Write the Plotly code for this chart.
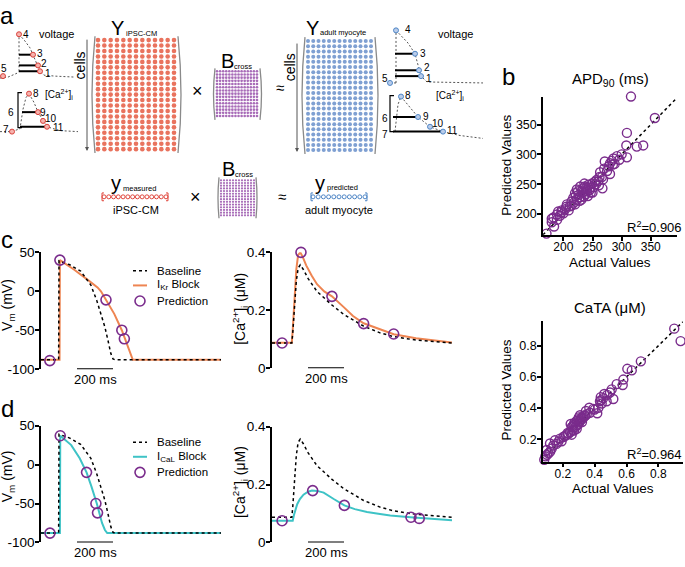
import numpy as np
import plotly.graph_objects as go

W, H = 685, 567
FONT = "Liberation Sans, Arial, sans-serif"

# ---------------- data ----------------
# panel b
apd_actual = [316, 357, 309, 308, 326, 337, 309, 300, 292, 286, 283, 280, 271, 285, 270, 280, 263, 266, 267,
              257, 254, 249, 243, 237, 234, 240, 231, 229, 223, 226, 220, 217, 223, 214, 220, 211, 206, 203, 197,
              200, 191, 189, 194, 183, 180, 184, 164, 171, 189, 180, 197, 245, 247, 238, 242, 235, 250, 252, 256,
              260, 233, 228, 225, 221, 236, 246, 241, 231, 214, 209, 205, 218, 228, 262, 268, 275, 278, 288, 296,
              261, 239]
apd_pred = [397, 361, 336, 315, 313, 315, 295, 300, 297, 293, 289, 285, 288, 283, 276, 267, 270, 262, 243,
            257, 254, 251, 249, 246, 243, 241, 238, 246, 241, 232, 235, 227, 224, 221, 216, 213, 216, 208, 206,
            201, 204, 199, 197, 194, 192, 179, 167, 167, 190, 186, 203, 240, 236, 233, 230, 229, 236, 245, 250,
            255, 236, 228, 238, 230, 251, 244, 238, 224, 214, 206, 212, 219, 222, 262, 258, 272, 280, 284, 291,
            248, 244]
cata_actual = [0.90, 0.94, 0.69, 0.605, 0.633, 0.58, 0.538, 0.576, 0.507, 0.517, 0.496, 0.479, 0.454, 0.438,
               0.433, 0.444, 0.475, 0.423, 0.391, 0.416, 0.366, 0.345, 0.328, 0.318, 0.308, 0.297, 0.287, 0.303,
               0.276, 0.249, 0.265, 0.255, 0.287, 0.27, 0.245, 0.234, 0.255, 0.22, 0.203, 0.182, 0.192, 0.171,
               0.119, 0.098, 0.083, 0.15, 0.30, 0.31, 0.32, 0.33, 0.29, 0.28, 0.26, 0.35, 0.37, 0.40, 0.14, 0.13,
               0.12, 0.11, 0.10, 0.09, 0.16, 0.21, 0.23, 0.27, 0.30, 0.32, 0.34, 0.44, 0.46]
cata_pred = [0.91, 0.83, 0.70, 0.652, 0.642, 0.583, 0.554, 0.548, 0.52, 0.458, 0.50, 0.485, 0.464, 0.47,
             0.444, 0.429, 0.444, 0.402, 0.395, 0.367, 0.402, 0.381, 0.35, 0.339, 0.354, 0.329, 0.318, 0.312,
             0.308, 0.298, 0.287, 0.277, 0.267, 0.256, 0.245, 0.235, 0.229, 0.225, 0.214, 0.204, 0.187, 0.183,
             0.173, 0.131, 0.068, 0.193, 0.30, 0.32, 0.33, 0.34, 0.29, 0.28, 0.26, 0.36, 0.37, 0.39, 0.16, 0.14,
             0.12, 0.11, 0.10, 0.09, 0.17, 0.22, 0.24, 0.30, 0.34, 0.31, 0.35, 0.45, 0.49]
apd_r2 = "0.906"
cata_r2 = "0.964"

# panels c/d : time in ms
base_v_t = [0, 98, 100, 160, 220, 277, 310, 335, 355, 372, 388, 400, 412, 1000]
base_v = [-88, -88, 39, 34, 26, 8, -12, -30, -46, -63, -80, -87, -88, -88]
ikr_v_t = [0, 103, 105, 183, 258, 314, 333, 361, 407, 449, 473, 492, 510, 1000]
ikr_v = [-88, -88, 40, 28, 15, 5, 0, -11, -29, -50, -65, -77, -88, -88]
ikr_v_pred_t = [49, 105, 361, 449, 463]
ikr_v_pred = [-89, 40, -11, -50, -61]

base_ca_t = [0, 110, 115, 125, 135, 145, 157, 175, 200, 250, 300, 333, 400, 509, 600, 676, 800, 900, 1000]
base_ca = [0.087, 0.087, 0.12, 0.22, 0.30, 0.345, 0.357, 0.34, 0.31, 0.265, 0.235, 0.218, 0.185, 0.145,
           0.122, 0.109, 0.097, 0.091, 0.087]
ikr_ca_t = [0, 110, 115, 125, 135, 145, 157, 170, 190, 220, 250, 290, 333, 400, 450, 509, 600, 676, 800, 900, 1000]
ikr_ca = [0.088, 0.088, 0.13, 0.25, 0.34, 0.39, 0.40, 0.385, 0.355, 0.32, 0.29, 0.265, 0.248, 0.21, 0.18,
          0.155, 0.133, 0.117, 0.103, 0.095, 0.089]
ikr_ca_pred_t = [56, 161, 333, 509, 676]
ikr_ca_pred = [0.087, 0.40, 0.248, 0.154, 0.118]

cal_v_t = [0, 105, 107, 140, 168, 215, 253, 280, 310, 339, 355, 368, 1000]
cal_v = [-88, -88, 37, 31, 25, 8, -10, -28, -50, -75, -84, -88, -88]
cal_v_pred_t = [50, 107, 253, 305, 314]
cal_v_pred = [-88, 37, -10, -50, -62]

cal_ca_t = [0, 115, 122, 130, 140, 155, 175, 200, 222, 250, 287, 343, 402, 460, 528, 600, 657, 769, 900, 1000]
cal_ca = [0.075, 0.075, 0.095, 0.115, 0.132, 0.150, 0.165, 0.175, 0.179, 0.178, 0.172, 0.150, 0.128, 0.115,
          0.105, 0.098, 0.093, 0.087, 0.080, 0.077]
cal_ca_pred_t = [56, 226, 402, 772, 818]
cal_ca_pred = [0.075, 0.179, 0.128, 0.087, 0.083]

legend_c = ["Baseline", "I<sub>Kr</sub> Block", "Prediction"]
legend_d = ["Baseline", "I<sub>CaL</sub> Block", "Prediction"]

# ---------------- styles ----------------
ORANGE = "#EE8552"
TEAL = "#3EC3C6"
PURPLE = "#7A2C8C"
RED_DOT = "#E9735E"
BLUE_DOT = "#7FA0D2"
B_DOT = "#A86CB8"
PRED_MARKER = dict(symbol="circle-open", size=10, color=PURPLE, line=dict(width=1.6))


def xd(p0, p1):
    return [p0 / W, p1 / W]


def yd(top, bot):
    return [1 - bot / H, 1 - top / H]


fig = go.Figure()

# ---------- panels c / d ----------
panels = [
    ("x", "y", base_v_t, base_v, ikr_v_t, ikr_v, ikr_v_pred_t, ikr_v_pred, ORANGE),
    ("x2", "y2", base_ca_t, base_ca, ikr_ca_t, ikr_ca, ikr_ca_pred_t, ikr_ca_pred, ORANGE),
    ("x3", "y3", base_v_t, base_v, cal_v_t, cal_v, cal_v_pred_t, cal_v_pred, TEAL),
    ("x4", "y4", base_ca_t, base_ca, cal_ca_t, cal_ca, cal_ca_pred_t, cal_ca_pred, TEAL),
]
for xa, ya, bt, bv, kt, kv, pt, pv, col in panels:
    fig.add_trace(go.Scatter(x=kt, y=kv, xaxis=xa, yaxis=ya, mode="lines",
                             line=dict(color=col, width=2), showlegend=False))
    fig.add_trace(go.Scatter(x=bt, y=bv, xaxis=xa, yaxis=ya, mode="lines",
                             line=dict(color="black", width=1.5, dash="dot"), showlegend=False))
    fig.add_trace(go.Scatter(x=pt, y=pv, xaxis=xa, yaxis=ya, mode="markers",
                             marker=PRED_MARKER, showlegend=False, cliponaxis=False))

# ---------- panel b ----------
fig.add_trace(go.Scatter(x=[165, 395], y=[165, 395], xaxis="x5", yaxis="y5", mode="lines",
                         line=dict(color="black", width=1.5, dash="dot"), showlegend=False))
fig.add_trace(go.Scatter(x=apd_actual, y=apd_pred, xaxis="x5", yaxis="y5", mode="markers",
                         marker=dict(symbol="circle-open", size=9, color=PURPLE, line=dict(width=1.4)),
                         showlegend=False, cliponaxis=False))
fig.add_trace(go.Scatter(x=[0.06, 0.955], y=[0.06, 0.955], xaxis="x6", yaxis="y6", mode="lines",
                         line=dict(color="black", width=1.5, dash="dot"), showlegend=False))
fig.add_trace(go.Scatter(x=cata_actual, y=cata_pred, xaxis="x6", yaxis="y6", mode="markers",
                         marker=dict(symbol="circle-open", size=9, color=PURPLE, line=dict(width=1.4)),
                         showlegend=False, cliponaxis=False))


# ---------- panel a schematic (pixel overlay) ----------
def px_trace(xs, ys, **kw):
    fig.add_trace(go.Scatter(x=xs, y=ys, xaxis="x7", yaxis="y7", showlegend=False,
                             hoverinfo="skip", cliponaxis=False, **kw))


def dot_grid(x0, x1, y0, y1, nc, nr, color, size, symbol="circle"):
    gx, gy = np.meshgrid(np.linspace(x0, x1, nc), np.linspace(y0, y1, nr))
    px_trace(gx.ravel(), gy.ravel(), mode="markers",
             marker=dict(color=color, size=size, symbol=symbol, line=dict(width=0)))


dot_grid(98, 174, 34, 146, 13, 21, RED_DOT, 4.6)
dot_grid(308, 371, 35, 147, 13, 22, BLUE_DOT, 4.0)
dot_grid(217, 257, 66, 112, 14, 15, B_DOT, 2.6)
dot_grid(221, 254, 178, 214, 12, 14, B_DOT, 2.2)
# row vectors
px_trace(np.linspace(104, 166, 14), [195] * 14, mode="markers",
         marker=dict(symbol="circle-open", color="#E0463C", size=4, line=dict(width=1)))
px_trace(np.linspace(313, 365, 11), [195] * 11, mode="markers",
         marker=dict(symbol="circle-open", color="#4F86C6", size=4, line=dict(width=1)))

GRAYDASH = dict(color="#555", width=1, dash="2px,2px")
# left voltage sketch
px_trace([0, 8, 17, 19], [73, 72, 68, 66], mode="lines", line=GRAYDASH)
px_trace([19, 19], [66, 28], mode="lines", line=GRAYDASH)
px_trace([19, 25, 30, 33, 36, 38, 40, 44, 55, 75], [28, 35, 42, 49, 55, 60, 66, 70, 71, 72], mode="lines", line=GRAYDASH)
for yy, xe in [(49, 33), (60, 38), (66, 40)]:
    px_trace([19, xe], [yy, yy], mode="lines", line=dict(color="black", width=2))
# left Ca sketch
px_trace([0, 12, 20, 23, 26, 29], [128, 128, 125, 105, 93, 89], mode="lines", line=GRAYDASH)
px_trace([29, 34, 38, 43, 47, 60, 78], [89, 98, 108, 117, 123, 127, 128], mode="lines", line=GRAYDASH)
for yy, xs, xe in [(108, 22, 38), (123, 20, 47)]:
    px_trace([xs, xe], [yy, yy], mode="lines", line=dict(color="black", width=2))
px_trace([22, 18, 18, 22], [88, 88, 124, 124], mode="lines", line=dict(color="black", width=1.2))
px_trace([19, 38, 40, 33, 3, 29, 38, 43, 47, 12], [28, 60, 66, 49, 71, 89, 108, 117, 123, 128], mode="markers",
         marker=dict(color="#F6B3AE", size=5, line=dict(color="#D9403A", width=1)))
# right voltage sketch
px_trace([390, 396], [78, 78], mode="lines", line=GRAYDASH)
px_trace([396, 396], [78, 24], mode="lines", line=GRAYDASH)
px_trace([396, 408, 415, 418, 421, 427, 483], [24, 37, 48, 60, 71, 77, 78], mode="lines", line=GRAYDASH)
for yy, xe in [(48, 415), (65, 419), (71, 421)]:
    px_trace([395, xe], [yy, yy], mode="lines", line=dict(color="black", width=2))
# right Ca sketch
px_trace([395, 398, 401], [128, 100, 92], mode="lines", line=GRAYDASH)
px_trace([401, 410, 418, 430, 443, 460, 483], [92, 103, 113, 123, 128, 132, 135], mode="lines", line=GRAYDASH)
for yy, xe in [(113, 418), (128, 443)]:
    px_trace([393, xe], [yy, yy], mode="lines", line=dict(color="black", width=2))
px_trace([394, 390, 390, 394], [91, 91, 128, 128], mode="lines", line=dict(color="black", width=1.2))
px_trace([396, 415, 419, 421, 390, 401, 418, 430, 443], [24, 48, 65, 71, 78, 92, 113, 123, 128], mode="markers",
         marker=dict(color="#B9CCEA", size=5, line=dict(color="#4F86C6", width=1)))

# manual legends (panels c, d)
LEG_DY = [0, 15, 31]
for y0, col in [(271, ORANGE), (447, TEAL)]:
    px_trace([133, 147], [y0 + LEG_DY[0]] * 2, mode="lines", line=dict(color="black", width=1.5, dash="dot"))
    px_trace([133, 147], [y0 + LEG_DY[1]] * 2, mode="lines", line=dict(color=col, width=2))
    px_trace([140], [y0 + LEG_DY[2]], mode="markers", marker=PRED_MARKER)


# brackets (parentheses)
def paren(x, y0, y1, left=True, bulge=5):
    cx = x - bulge if left else x + bulge
    fig.add_shape(type="path", xref="x7", yref="y7",
                  path=f"M {x},{y0} Q {cx},{(y0 + y1) / 2} {x},{y1}",
                  line=dict(color="#8a8a8a", width=1.3))


paren(95, 30, 150, True, 6)
paren(178, 30, 150, False, 6)
paren(305, 31, 151, True, 6)
paren(375, 31, 151, False, 6)
paren(215, 63, 116, True, 3)
paren(260, 63, 116, False, 3)
paren(219, 175, 217, True, 2)
paren(256, 175, 217, False, 2)
for (xa, xb, col) in [(102, 168, "#E0463C"), (311, 367, "#4F86C6")]:
    fig.add_shape(type="path", xref="x7", yref="y7", path=f"M {xa+2},191 L {xa},191 L {xa},199 L {xa+2},199",
                  line=dict(color=col, width=1))
    fig.add_shape(type="path", xref="x7", yref="y7", path=f"M {xb-2},191 L {xb},191 L {xb},199 L {xb-2},199",
                  line=dict(color=col, width=1))

annotations = []


def txt(x, y, s, size=11, color="black", xanchor="center", yanchor="middle", angle=0):
    annotations.append(dict(x=x, y=y, xref="x7", yref="y7", text=s, showarrow=False,
                            font=dict(size=size, color=color, family=FONT), borderpad=0,
                            xanchor=xanchor, yanchor=yanchor, textangle=angle))


# legend texts
for y0, labels in [(271, legend_c), (447, legend_d)]:
    for k, lab in enumerate(labels):
        txt(156, y0 + LEG_DY[k], lab, 11.5, xanchor="left")

# cells arrows
for xx, y0, y1 in [(87, 32, 148), (297, 36, 149)]:
    annotations.append(dict(x=xx, y=y1, ax=xx, ay=y0, xref="x7", yref="y7", axref="x7", ayref="y7",
                            showarrow=True, arrowhead=2, arrowsize=0.8, arrowwidth=1, arrowcolor="#555", text=""))
txt(80, 60, "cells", 14, angle=-90)
txt(290, 62, "cells", 14, angle=-90)

txt(117, 22, "Y", 20)
txt(125, 27, "iPSC-CM", 7.5, xanchor="left")
txt(312, 22, "Y", 20)
txt(319, 26, "adult myocyte", 7.5, xanchor="left")
txt(227, 55, "B", 20)
txt(233, 61, "cross", 7.5, xanchor="left")
txt(228, 166, "B", 20)
txt(234, 172, "cross", 7.5, xanchor="left")
txt(197, 86, "×", 18)
txt(195, 195, "×", 18)
txt(280, 83, "≈", 15)
txt(282, 195, "≈", 15)
txt(116, 181, "y", 20)
txt(122, 186, "measured", 7.5, xanchor="left")
txt(320, 181, "y", 20)
txt(326, 185, "predicted", 7.5, xanchor="left")
txt(136, 208, "iPSC-CM", 11)
txt(339, 208, "adult myocyte", 11)

for s, x, y in [("4", 26, 28), ("3", 40, 48), ("2", 44, 58), ("1", 48, 68), ("5", 4, 63),
                ("8", 36, 89), ("9", 43, 108), ("10", 51, 115), ("11", 58, 124), ("6", 11, 108), ("7", 6, 126),
                ("4", 408, 23), ("3", 423, 48), ("2", 427, 62), ("1", 429, 73), ("5", 385, 73),
                ("8", 408, 91), ("9", 426, 112), ("10", 438, 120), ("11", 452, 127), ("6", 385, 115),
                ("7", 385, 131)]:
    txt(x, y, s, 10)
txt(56, 28, "voltage", 11)
txt(455, 28, "voltage", 11)
txt(59, 90, "[Ca<sup>2+</sup>]<sub>i</sub>", 10)
txt(450, 91, "[Ca<sup>2+</sup>]<sub>i</sub>", 10)

# panel letters
txt(7, 9, "a", 24)
txt(508, 71, "b", 24)
txt(7, 239, "c", 24)
txt(7, 412, "d", 24)

# panel b titles & R2 & axis titles
txt(610, 74, "APD<sub>90</sub> (ms)", 15)
txt(610, 309, "CaTA (μM)", 15)
txt(683, 226, f"R<sup>2</sup>={apd_r2}", 13, xanchor="right")
txt(683, 459, f"R<sup>2</sup>={cata_r2}", 13, xanchor="right")
txt(610, 262, "Actual Values", 13.5)
txt(613, 495, "Actual Values", 13.5)
txt(507, 163, "Predicted Values", 13.5, angle=-90)
txt(507, 394, "Predicted Values", 13.5, angle=-90)

# c/d axis titles
VT = "V<sub>m</sub> (mV)"
CT = "[Ca<sup>2+</sup>]<sub>i</sub> (μM)"
txt(8, 306, VT, 14, angle=-90)
txt(240, 310, CT, 14, angle=-90)
txt(8, 482, VT, 14, angle=-90)
txt(240, 488, CT, 14, angle=-90)

# scale bars
for xa, ya, ybot in [("x", "y", -100), ("x2", "y2", 0), ("x3", "y3", -100), ("x4", "y4", 0)]:
    fig.add_shape(type="line", xref=xa, yref=ya, x0=200, x1=400, y0=ybot, y1=ybot,
                  line=dict(color="black", width=2))
    annotations.append(dict(x=300, y=ybot, xref=xa, yref=ya, text="200 ms", showarrow=False,
                            yanchor="top", yshift=-1, font=dict(size=13, family=FONT, color="black")))


# ---------------- axes ----------------
def yaxis_cfg(dom, rng, tickvals, ticktext, anchor, fsize):
    return dict(domain=dom, range=rng, tickvals=tickvals, ticktext=ticktext, showline=True,
                linecolor="black", linewidth=1.5, ticks="outside", ticklen=4, tickwidth=1.5,
                tickcolor="black", showgrid=False, zeroline=False,
                tickfont=dict(size=fsize, family=FONT, color="black"), ticklabelstandoff=-2,
                anchor=anchor, fixedrange=True)


def hidden_x(dom, anchor):
    return dict(domain=dom, range=[0, 1000], visible=False, anchor=anchor, fixedrange=True)


def xaxis_b(dom, rng, tickvals, anchor):
    return dict(domain=dom, range=rng, tickvals=tickvals, showline=True,
                linecolor="black", linewidth=1.5, ticks="outside", ticklen=4, tickwidth=1.5,
                tickcolor="black", showgrid=False, zeroline=False,
                tickfont=dict(size=12, family=FONT, color="black"), ticklabelstandoff=-4,
                anchor=anchor, fixedrange=True)


layout = dict(
    width=W, height=H, margin=dict(l=0, r=0, t=0, b=0), autosize=False,
    paper_bgcolor="white", plot_bgcolor="rgba(0,0,0,0)",
    font=dict(family=FONT, color="black"),
    xaxis=hidden_x(xd(41, 221), "y"),
    yaxis=yaxis_cfg(yd(252, 372), [-100, 50], [-100, -50, 0, 50], ["-100", "-50", "0", "50"], "x", 13.5),
    xaxis2=hidden_x(xd(272, 452), "y2"),
    yaxis2=yaxis_cfg(yd(252, 371), [0, 0.4], [0, 0.2, 0.4], ["0", "0.2", "0.4"], "x2", 13.5),
    xaxis3=hidden_x(xd(41, 221), "y3"),
    yaxis3=yaxis_cfg(yd(430, 550), [-100, 50], [-100, -50, 0, 50], ["-100", "-50", "0", "50"], "x3", 13.5),
    xaxis4=hidden_x(xd(272, 452), "y4"),
    yaxis4=yaxis_cfg(yd(431, 550), [0, 0.4], [0, 0.2, 0.4], ["0", "0.2", "0.4"], "x4", 13.5),
    xaxis5=xaxis_b(xd(543, 677), [165, 395], [200, 250, 300, 350], "y5"),
    yaxis5=yaxis_cfg(yd(92, 234), [165, 397], [200, 250, 300, 350], ["200", "250", "300", "350"], "x5", 12.5),
    xaxis6=xaxis_b(xd(543, 683), [0.075, 0.955], [0.2, 0.4, 0.6, 0.8], "y6"),
    yaxis6=yaxis_cfg(yd(323, 467), [0.056, 0.956], [0.2, 0.4, 0.6, 0.8], ["0.2", "0.4", "0.6", "0.8"], "x6", 12.5),
    xaxis7=dict(domain=[0, 1], range=[0, W], visible=False, anchor="y7", fixedrange=True),
    yaxis7=dict(domain=[0, 1], range=[H, 0], visible=False, anchor="x7", fixedrange=True),
    annotations=annotations,
    showlegend=False,
)
fig.update_layout(**layout)
fig.write_html("out.html", config={"displayModeBar": False},
               post_script="document.body.style.margin='0';document.body.style.overflow='hidden';")
